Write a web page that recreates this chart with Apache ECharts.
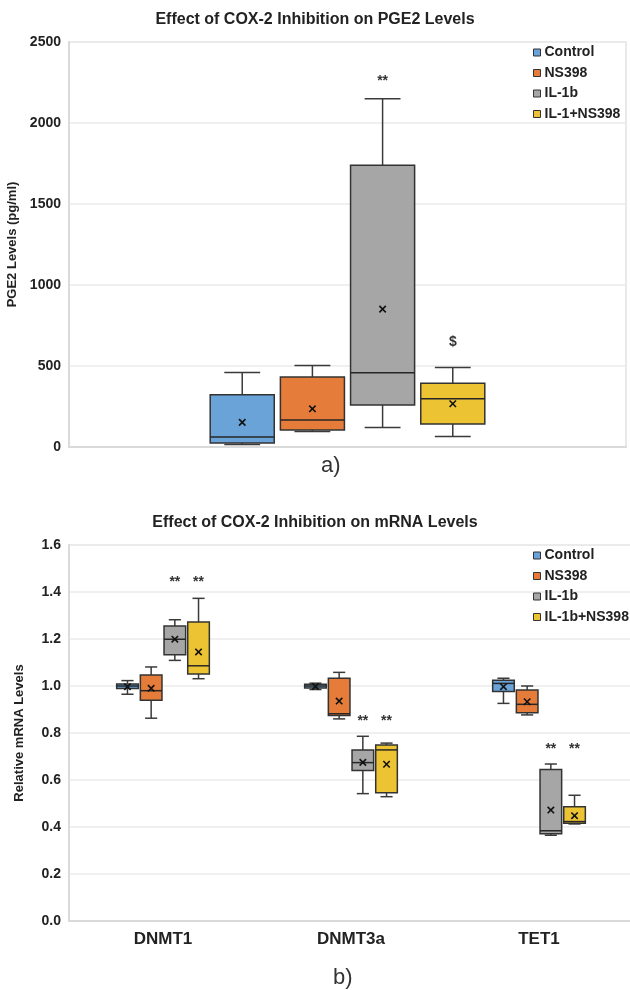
<!DOCTYPE html>
<html>
<head>
<meta charset="utf-8">
<script src="https://cdn.jsdelivr.net/npm/echarts@6/dist/echarts.min.js"></script>
<style>
  html, body { margin: 0; padding: 0; background: #fff; }
  #chart { width: 630px; height: 990px; }
</style>
</head>
<body>
<div id="chart"></div>
<script>
// ---- panel a) PGE2 ----
// each box: [min, q1, median, q3, max, mean]
const pgeGroups = ['Control', 'NS398', 'IL-1b', 'IL-1+NS398'];
const pgeControl = [16, 25, 62, 322, 460, 152];
const pgeNS398 = [96, 105, 166, 432, 503, 236];
const pgeIL1b = [121, 259, 458, 1739, 2149, 851];
const pgeIL1NS398 = [65, 142, 298, 394, 491, 267];
const pgeNotes = ['', '', '**', '$'];
const pgeNoteAt = [0, 0, 2261, 645];
const pgeTicks = [0, 500, 1000, 1500, 2000, 2500];

// ---- panel b) mRNA ----
const genes = ['DNMT1', 'DNMT3a', 'TET1'];
const mrnaGroups = ['Control', 'NS398', 'IL-1b', 'IL-1b+NS398'];
const mrnaControl = [
  [0.965, 0.989, 1.000, 1.009, 1.023, 0.997],
  [0.985, 0.992, 1.000, 1.007, 1.012, 0.998],
  [0.926, 0.977, 1.011, 1.024, 1.033, 0.997]
];
const mrnaNS398 = [
  [0.863, 0.939, 0.980, 1.047, 1.081, 0.990],
  [0.860, 0.875, 0.882, 1.033, 1.058, 0.936],
  [0.877, 0.886, 0.922, 0.983, 1.000, 0.933]
];
const mrnaIL1b = [
  [1.109, 1.133, 1.199, 1.255, 1.282, 1.199],
  [0.542, 0.640, 0.674, 0.728, 0.786, 0.675],
  [0.365, 0.371, 0.384, 0.645, 0.668, 0.472]
];
const mrnaIL1bNS398 = [
  [1.031, 1.051, 1.086, 1.272, 1.373, 1.145],
  [0.529, 0.546, 0.728, 0.749, 0.757, 0.667],
  [0.413, 0.416, 0.423, 0.486, 0.535, 0.448]
];
const mrnaNotes = [['', '', ''], ['', '', ''], ['**', '**', '**'], ['**', '**', '**']];
const mrnaNoteAt = [1.443, 0.851, 0.733];

const colors = ['#6aa3d8', '#e57c39', '#a6a6a6', '#ecc332'];
const font = "'Liberation Sans', Arial, sans-serif";
const textColor = '#222';

// box drawn inside the category band; offset/width are fractions of the band
function boxRenderer(offsetFrac, widthFrac, notes, noteAt) {
  return function (params, api) {
    const cat = api.value(0);
    const band = api.size([1, 0])[0];
    const cx = api.coord([cat, 0])[0] + offsetFrac * band;
    const w = widthFrac * band;
    const cap = w * 0.28;
    const py = i => api.coord([cat, api.value(i)])[1];
    const yMin = py(1), yQ1 = py(2), yMed = py(3), yQ3 = py(4), yMax = py(5), yMean = py(6);
    const ln = { stroke: '#3a3a3a', lineWidth: 1.5 };
    const m = 3.2;
    const children = [
      { type: 'line', shape: { x1: cx, y1: yMax, x2: cx, y2: yQ3 }, style: ln },
      { type: 'line', shape: { x1: cx, y1: yQ1, x2: cx, y2: yMin }, style: ln },
      { type: 'line', shape: { x1: cx - cap, y1: yMax, x2: cx + cap, y2: yMax }, style: ln },
      { type: 'line', shape: { x1: cx - cap, y1: yMin, x2: cx + cap, y2: yMin }, style: ln },
      {
        type: 'rect',
        shape: { x: cx - w / 2, y: yQ3, width: w, height: yQ1 - yQ3 },
        style: { fill: api.visual('color'), stroke: '#333', lineWidth: 1.5 }
      },
      { type: 'line', shape: { x1: cx - w / 2, y1: yMed, x2: cx + w / 2, y2: yMed }, style: { stroke: '#262626', lineWidth: 1.5 } },
      { type: 'line', shape: { x1: cx - m, y1: yMean - m, x2: cx + m, y2: yMean + m }, style: { stroke: '#111', lineWidth: 1.6 } },
      { type: 'line', shape: { x1: cx - m, y1: yMean + m, x2: cx + m, y2: yMean - m }, style: { stroke: '#111', lineWidth: 1.6 } }
    ];
    const note = notes[params.dataIndex];
    if (note) {
      children.push({
        type: 'text',
        style: {
          text: note,
          x: cx,
          y: api.coord([cat, noteAt[params.dataIndex]])[1],
          align: 'center',
          verticalAlign: 'middle',
          font: 'bold 14px ' + font,
          fill: '#333'
        }
      });
    }
    return { type: 'group', children };
  };
}

const spacing = 0.126;
const boxFrac = 0.115;
const offsets = [-1.5, -0.5, 0.5, 1.5];

const pgeData = [pgeControl, pgeNS398, pgeIL1b, pgeIL1NS398];
const mrnaData = [mrnaControl, mrnaNS398, mrnaIL1b, mrnaIL1bNS398];

const series = [];
pgeGroups.forEach((name, s) => {
  series.push({
    name,
    type: 'custom',
    xAxisIndex: 0,
    yAxisIndex: 0,
    itemStyle: { color: colors[s] },
    renderItem: boxRenderer(offsets[s] * spacing, boxFrac, [pgeNotes[s]], [pgeNoteAt[s]]),
    encode: { x: 0, y: [1, 2, 3, 4, 5] },
    data: [[0].concat(pgeData[s])]
  });
});
mrnaGroups.forEach((name, s) => {
  series.push({
    name,
    type: 'custom',
    xAxisIndex: 1,
    yAxisIndex: 1,
    itemStyle: { color: colors[s] },
    renderItem: boxRenderer(offsets[s] * spacing, boxFrac, mrnaNotes[s], mrnaNoteAt),
    encode: { x: 0, y: [1, 2, 3, 4, 5] },
    data: genes.map((g, i) => [i].concat(mrnaData[s][i]))
  });
});

const chart = echarts.init(document.getElementById('chart'));

const yLabel = { color: textColor, fontSize: 14, fontWeight: 'bold', fontFamily: font, margin: 8 };
const legendBase = {
  orient: 'vertical',
  left: 528,
  icon: 'rect',
  itemWidth: 7,
  itemHeight: 7,
  itemGap: 5.5,
  itemStyle: { borderColor: '#333', borderWidth: 1 },
  textStyle: { color: textColor, fontSize: 14, fontWeight: 'bold', fontFamily: font, lineHeight: 15, padding: [0, 0, 0, -1] }
};

chart.setOption({
  animation: false,
  backgroundColor: '#fff',
  title: [
    { text: 'Effect of COX-2 Inhibition on PGE2 Levels', left: 'center', top: 7,
      textStyle: { color: textColor, fontSize: 16, fontWeight: 'bold', fontFamily: font } },
    { text: 'Effect of COX-2 Inhibition on mRNA Levels', left: 'center', top: 510,
      textStyle: { color: textColor, fontSize: 16, fontWeight: 'bold', fontFamily: font } }
  ],
  legend: [
    Object.assign({}, legendBase, { top: 40, data: pgeGroups }),
    Object.assign({}, legendBase, { top: 543, data: mrnaGroups })
  ],
  grid: [
    { left: 69, right: 4, top: 42, bottom: 543, show: true, borderColor: '#e2e2e2', borderWidth: 1.5, outerBoundsMode: 'none' },
    { left: 69, right: -3, top: 545, bottom: 69, show: true, borderColor: '#e2e2e2', borderWidth: 1.5, outerBoundsMode: 'none' }
  ],
  xAxis: [
    {
      gridIndex: 0, type: 'category', data: [''],
      axisLine: { lineStyle: { color: '#dadada', width: 2 } },
      axisTick: { show: false }, axisLabel: { show: false }
    },
    {
      gridIndex: 1, type: 'category', data: genes,
      axisLine: { lineStyle: { color: '#dadada', width: 2 } },
      axisTick: { show: false },
      axisLabel: { color: textColor, fontSize: 17, fontWeight: 'bold', fontFamily: font, margin: 10 }
    }
  ],
  yAxis: [
    {
      gridIndex: 0, type: 'value', min: pgeTicks[0], max: pgeTicks[pgeTicks.length - 1], interval: 500,
      name: 'PGE2 Levels (pg/ml)', nameLocation: 'middle', nameRotate: 90, nameGap: 44,
      nameTextStyle: { color: textColor, fontSize: 13, fontWeight: 'bold', fontFamily: font },
      axisLine: { show: true, lineStyle: { color: '#dadada', width: 2 } },
      axisTick: { show: false },
      splitLine: { lineStyle: { color: '#ebebeb', width: 1.5 } },
      axisLabel: Object.assign({}, yLabel, { formatter: v => String(v) })
    },
    {
      gridIndex: 1, type: 'value', min: 0, max: 1.6, interval: 0.2,
      name: 'Relative mRNA Levels', nameLocation: 'middle', nameRotate: 90, nameGap: 43,
      nameTextStyle: { color: textColor, fontSize: 13, fontWeight: 'bold', fontFamily: font },
      axisLine: { show: true, lineStyle: { color: '#dadada', width: 2 } },
      axisTick: { show: false },
      splitLine: { lineStyle: { color: '#ebebeb', width: 1.5 } },
      axisLabel: Object.assign({}, yLabel, { formatter: v => v.toFixed(1) })
    }
  ],
  graphic: [
    { type: 'text', left: 321, top: 455, style: { text: 'a)', font: '22px ' + font, fill: '#333' } },
    { type: 'text', left: 333, top: 967, style: { text: 'b)', font: '22px ' + font, fill: '#333' } }
  ],
  series
});
</script>
</body>
</html>
